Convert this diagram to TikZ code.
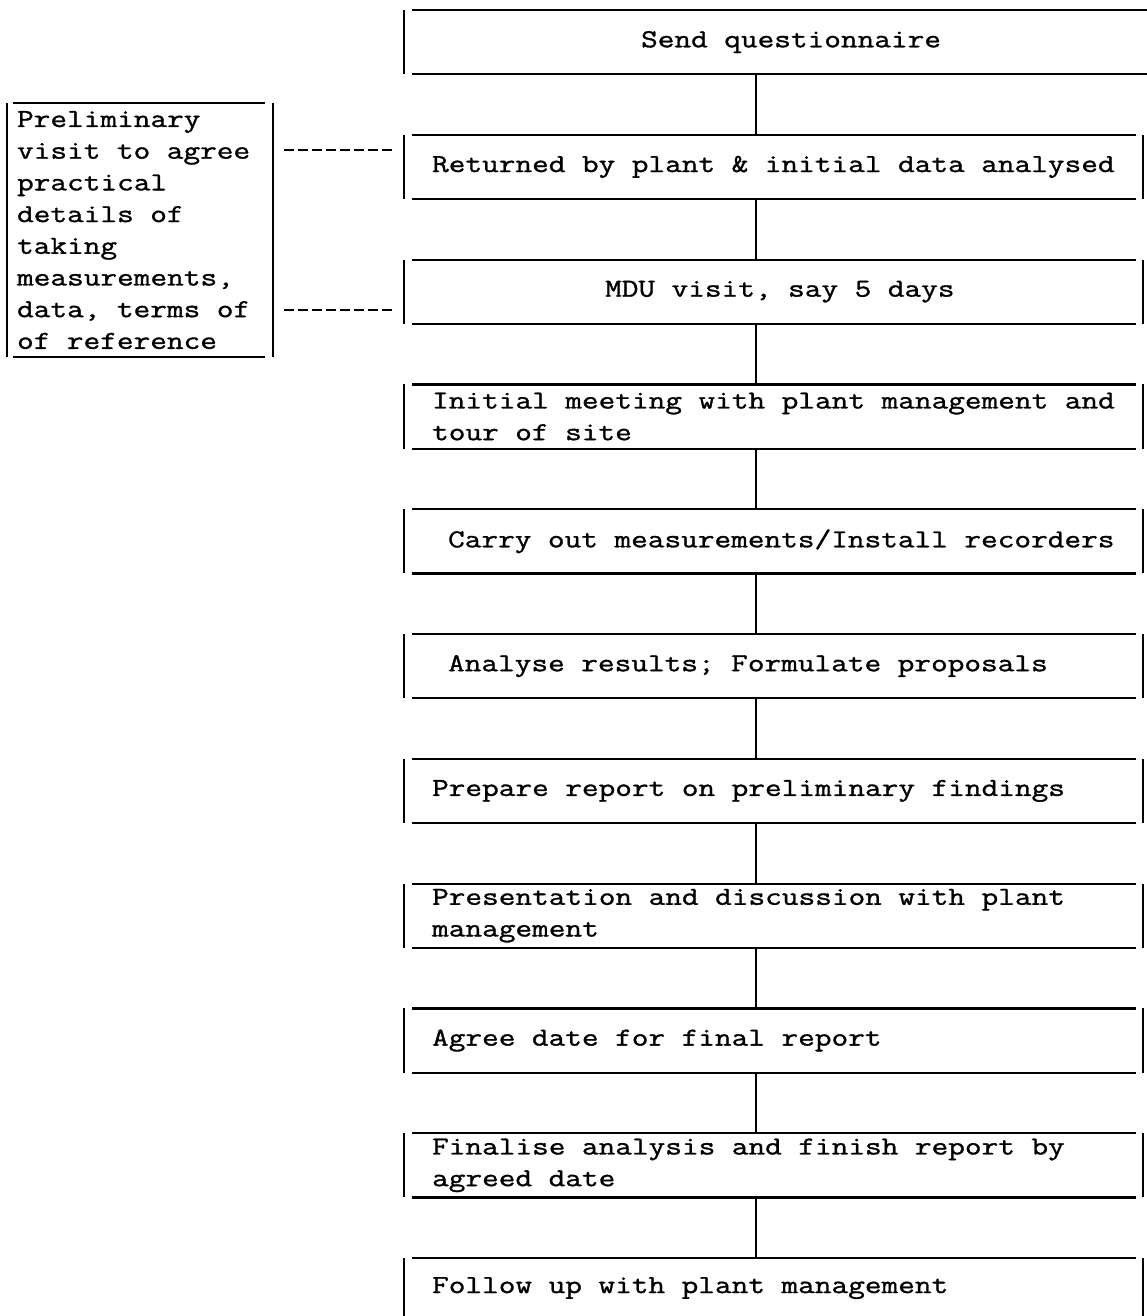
\documentclass[tikz,border=0pt]{standalone}
\usepackage{fontspec}
\newfontfamily\tw[FakeStretch=1.25,FakeBold=1.2]{Latin Modern Mono}
\newcommand\twsize{\tw\fontsize{25.9pt}{31.7pt}\selectfont}
\newcommand\rbox[1]{%
  \draw ([xshift=8pt]#1.north west) -- ([xshift=-7pt]#1.north east)
        ([xshift=8pt]#1.south west) -- ([xshift=-7pt]#1.south east)
        (#1.north west) -- (#1.south west)
        (#1.north east) -- (#1.south east);}
\begin{document}
\begin{tikzpicture}[x=1pt,y=-1pt,line width=2.2pt,
  box/.style={anchor=north west, minimum width=737pt, minimum height=62pt,
    text width=723pt, inner xsep=7pt, inner ysep=0pt, align=left,
    font=\twsize, execute at begin node={\leftskip=20pt\relax\spaceskip=16.5pt\relax\xspaceskip=16.5pt\relax}},
  sidebox/.style={anchor=north west, minimum width=264pt, minimum height=252pt,
    text width=250pt, inner xsep=7pt, inner ysep=0pt, align=left,
    font=\twsize, execute at begin node={\leftskip=2pt\relax\spaceskip=16.5pt\relax\xspaceskip=16.5pt\relax}},
  conn/.style={line width=2.2pt},
  dashline/.style={line width=2.2pt, dash pattern=on 10pt off 4pt}]
\useasboundingbox (0,0) rectangle (1146,1316);

\node[box] (b1) at (404,10) {\hspace*{209pt}Send questionnaire};
\node[box] (b2) at (404,134.8) {Returned by plant \& initial data analysed};
\node[box] (b3) at (404,259.6) {\hspace*{173pt}MDU visit, say 5 days};
\node[box] (b4) at (404,384.4) {Initial meeting with plant management and\\tour of site};
\node[box] (b5) at (404,509.2) {\hspace*{16pt}Carry out measurements/Install recorders};
\node[box] (b6) at (404,634) {\hspace*{16pt}Analyse results; Formulate proposals};
\node[box] (b7) at (404,758.8) {Prepare report on preliminary findings};
\node[box] (b8) at (404,883.6) {Presentation and discussion with plant\\management};
\node[box] (b9) at (404,1008.4) {Agree date for final report};
\node[box] (b10) at (404,1133.2) {Finalise analysis and finish report by\\agreed date};
\node[box, minimum height=58pt] (b11) at (404,1258) {Follow up with plant management};

\node[sidebox] (lbox) at (7,103) {Preliminary\\visit to agree\\practical\\details of\\taking\\measurements,\\data, terms of\\of reference};

% box outlines
\draw ([xshift=8pt]b1.north west) -- ([xshift=4pt]b1.north east)
      ([xshift=8pt]b1.south west) -- ([xshift=4pt]b1.south east)
      (b1.north west) -- (b1.south west);
\rbox{b2}\rbox{b3}\rbox{b4}\rbox{b5}\rbox{b6}\rbox{b7}\rbox{b8}\rbox{b9}\rbox{b10}
\draw ([xshift=8pt]b11.north west) -- ([xshift=-7pt]b11.north east)
      (b11.north west) -- (b11.south west)
      (b11.north east) -- (b11.south east);
\draw ([xshift=6pt]lbox.north west) -- ([xshift=-8pt]lbox.north east)
      ([xshift=6pt]lbox.south west) -- ([xshift=-8pt]lbox.south east)
      (lbox.north west) -- (lbox.south west)
      (lbox.north east) -- (lbox.south east);

% vertical connectors
\coordinate (cx) at (756,0);
\foreach \a/\b in {b1/b2,b2/b3,b3/b4,b4/b5,b5/b6,b6/b7,b7/b8,b8/b9,b9/b10,b10/b11}
  \draw[conn] (\a.south -| cx) -- (\b.north -| cx);

% dashed links
\coordinate (d1) at (0,150);
\coordinate (d2) at (0,310);
\draw[dashline, shorten <=11pt, shorten >=9pt] (lbox.east |- d1) -- (b2.west |- d1);
\draw[dashline, shorten <=11pt, shorten >=9pt] (lbox.east |- d2) -- (b3.west |- d2);
\end{tikzpicture}
\end{document}
